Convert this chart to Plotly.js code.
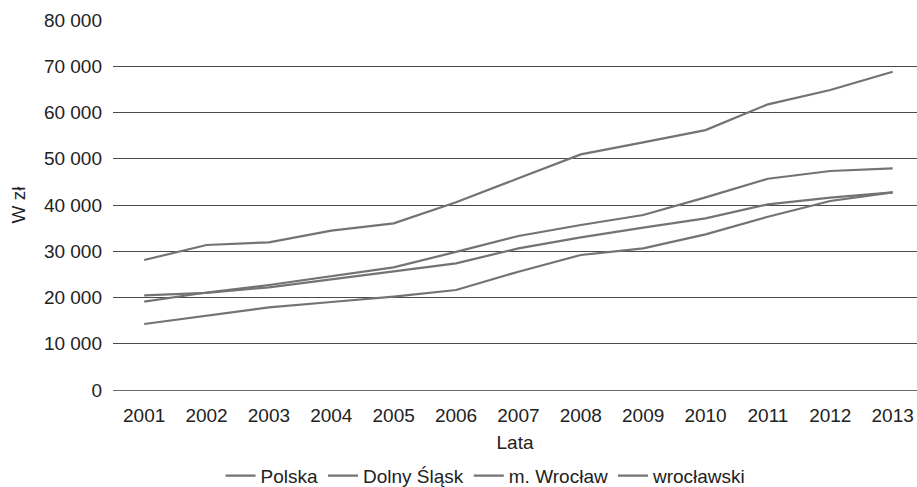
<!DOCTYPE html>
<html>
<head>
<meta charset="utf-8">
<script src="https://cdn.plot.ly/plotly-3.0.1.min.js"></script>
<style>html,body{margin:0;padding:0;background:#fff;}#chart{width:917px;height:487px;}</style>
</head>
<body>
<div id="chart"></div>
<script>
const years = ['2001','2002','2003','2004','2005','2006','2007','2008','2009','2010','2011','2012','2013'];
const polska = [20470, 21000, 22200, 23930, 25800, 27390, 30630, 33010, 35090, 37120, 40150, 41580, 42740];
const dolnySlask = [19100, 21080, 22700, 24650, 26530, 29860, 33300, 35670, 37840, 41660, 45680, 47350, 47930];
const wroclawMiasto = [28110, 31350, 31930, 34450, 36030, 40600, 45770, 50950, 53550, 56200, 61770, 64860, 68820];
const wroclawski = [14270, 16000, 17870, 19030, 20200, 21620, 25580, 29190, 30630, 33660, 37470, 40860, 42740];
const seriesNames = ['Polska', 'Dolny Śląsk', 'm. Wrocław', 'wrocławski'];

const seriesValues = [polska, dolnySlask, wroclawMiasto, wroclawski];
const lineColor = '#737373';
const traces = seriesValues.map((vals, i) => ({
  type: 'scatter',
  mode: 'lines',
  x: years,
  y: vals,
  name: seriesNames[i],
  line: {color: lineColor, width: 2.2}
}));

const font = {family: 'Liberation Sans, Arial, sans-serif', size: 19, color: '#222'};
const layout = {
  width: 917, height: 487,
  margin: {l: 113, r: 0, t: 20, b: 97},
  paper_bgcolor: '#fff', plot_bgcolor: '#fff',
  separators: ', ',
  font: font,
  showlegend: true,
  xaxis: {
    type: 'category',
    range: [-0.5, 12.39],
    showgrid: false, zeroline: false, showline: false,
    ticks: '',
    ticklabelstandoff: 12,
    tickfont: font,
    title: {text: 'Lata', font: font, standoff: 10}
  },
  yaxis: {
    range: [0, 80000],
    dtick: 10000,
    tickformat: ',d',
    showgrid: true, gridcolor: '#4a4a4a', gridwidth: 1,
    zeroline: true, zerolinecolor: '#6a6a6a', zerolinewidth: 1,
    showline: false, ticks: '',
    ticklabelstandoff: 10,
    tickfont: font,
    title: {text: 'W zł', font: font, standoff: 13}
  },
  legend: {
    orientation: 'h',
    xref: 'container', yref: 'container',
    x: 0.53, xanchor: 'center',
    y: 0.023, yanchor: 'middle',
    font: font,
    bgcolor: 'rgba(0,0,0,0)'
  }
};
Plotly.newPlot('chart', traces, layout, {displayModeBar: false, staticPlot: true});
</script>
</body>
</html>
